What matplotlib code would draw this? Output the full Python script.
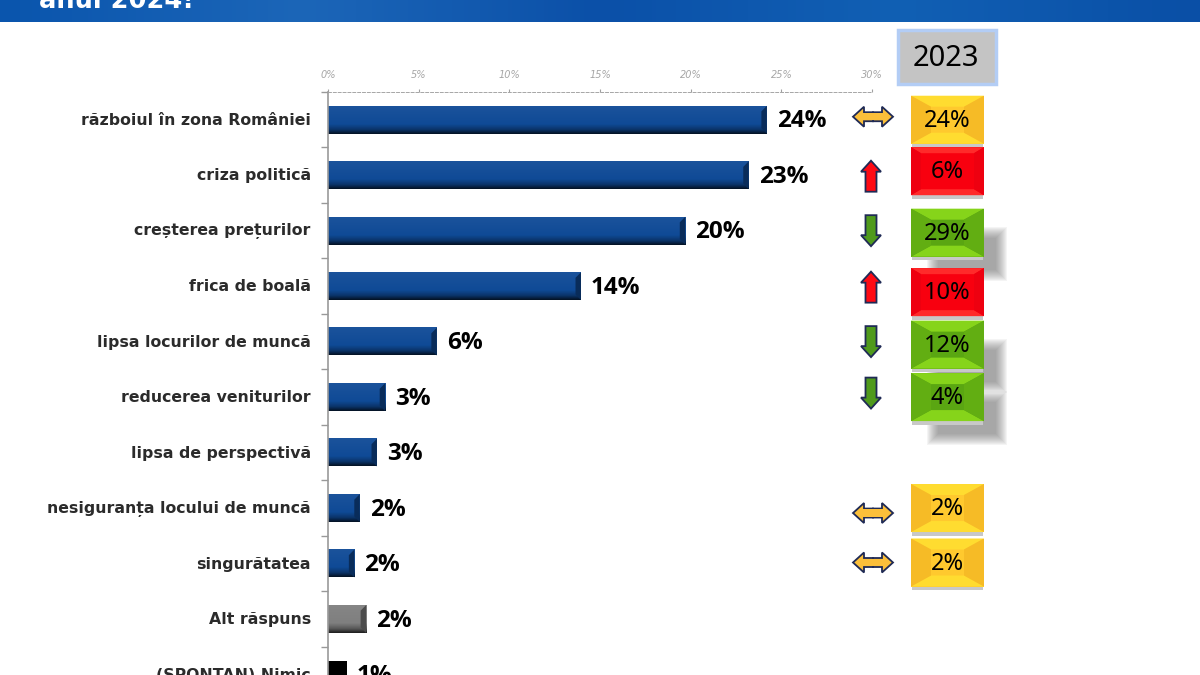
import matplotlib
matplotlib.use("Agg")
import matplotlib.pyplot as plt
import numpy as np
from matplotlib.colors import LinearSegmentedColormap, to_rgb
from matplotlib.patches import Polygon, Rectangle, FancyArrow
from matplotlib.ticker import PercentFormatter

categories = ["războiul în zona României", "criza politică", "creșterea prețurilor",
              "frica de boală", "lipsa locurilor de muncă", "reducerea veniturilor",
              "lipsa de perspectivă", "nesiguranța locului de muncă", "singurătatea",
              "Alt răspuns", "(SPONTAN) Nimic"]
values = [24.2, 23.2, 19.7, 13.95, 6.0, 3.15, 2.7, 1.75, 1.45, 2.1, 1.05]
value_labels = ["24%", "23%", "20%", "14%", "6%", "3%", "3%", "2%", "2%", "2%", "1%"]
bar_colors = ["#0f4a96"] * 9 + ["#7f7f7f", "#000000"]

# 2023 comparison, by row
rows_2023 = [0, 1, 2, 3, 4, 5, 7, 8]
labels_2023 = ["24%", "6%", "29%", "10%", "12%", "4%", "2%", "2%"]
trend = ["same", "up", "down", "up", "down", "down", "same", "same"]
box_nudge = [0, -4, 2, 6, 3, 0, 0, -1]
arrow_nudge = [-3, 1, 0, 1, 0, -4, 5, -1]

W, H = 1200, 675
plt.rcParams["font.family"] = ["DejaVu Sans"]
fig = plt.figure(figsize=(12, 6.75), dpi=100)

# overlay in pixels for the slide decoration
bg = fig.add_axes([0, 0, 1, 1], zorder=0)
bg.axis("off")

grad = np.linspace(0, 1, 300).reshape(1, -1)
band = LinearSegmentedColormap.from_list("band", ["#0a55ad", "#1c66b8", "#0b50a8", "#1160b4", "#0a4fa6"])
bg.imshow(grad, extent=[0, W, 22, 0], cmap=band, aspect="auto")
bg.text(39, 8, "anul 2024!", color="white", fontsize=18.5, fontweight="bold", va="baseline", ha="left")

ax = fig.add_axes([328 / W, 0, 544 / W, (H - 92) / H], zorder=1)
ax.patch.set_alpha(0)
bars = ax.barh(range(len(values)), values, height=0.5, color=bar_colors, edgecolor="none")
ax.set_xlim(0, 30)
ax.set_ylim(10.01, -0.5)
ax.xaxis.set_ticks_position("top")
ax.xaxis.set_major_formatter(PercentFormatter(decimals=0))
ax.set_xticks(range(0, 31, 5))
ax.tick_params(axis="x", labelsize=7, labelcolor="#a6a6a6", length=2, color="#a0a0a0", pad=7)
for t in ax.get_xticklabels():
    t.set_fontstyle("italic")
ax.set_yticks(np.arange(-0.5, 10.5))
ax.set_yticklabels([])
ax.tick_params(axis="y", length=5, color="#999999", width=1)
for s in ["right", "bottom"]:
    ax.spines[s].set_visible(False)
ax.spines["left"].set_color("#999999")
ax.spines["left"].set_linewidth(1.2)
ax.spines["top"].set_color("#a6a6a6")
ax.spines["top"].set_linestyle((0, (3, 2)))
ax.spines["top"].set_linewidth(0.7)


def shade(c, f):
    c = np.array(to_rgb(c))
    return tuple(c * f) if f < 1 else tuple(c + (1 - c) * (f - 1))


for bar, c, lab, cat, i in zip(bars, bar_colors, value_labels, categories, range(len(values))):
    w = bar.get_width()
    y0 = bar.get_y()
    h = bar.get_height()
    if c != "#000000":
        # vertical shading, then a small bevel at the bar end
        cm = LinearSegmentedColormap.from_list("b", [(0, shade(c, 1.05)), (0.65, c), (0.85, shade(c, 0.7)), (1, shade(c, 0.25))])
        ax.imshow(np.linspace(0, 1, 40).reshape(-1, 1), extent=(0, w, y0 + h, y0), cmap=cm, aspect="auto", zorder=2)
        dx = 0.3
        dy = h * 0.2
        ax.add_patch(Polygon([(w, y0), (w, y0 + h), (w - dx, y0 + h - dy), (w - dx, y0 + dy)],
                             color=shade(c, 0.6), lw=0, zorder=3))
    ax.text(w + 0.55, i + 0.03, lab, fontsize=17.5, fontweight="bold", color="black", va="center", ha="left",
            clip_on=False, family="Open Sans")
    ax.text(-0.95, i + 0.01, cat, fontsize=11.35, fontweight="bold", color="#2b2b2b", va="center", ha="right",
            clip_on=False)
ax.set_xlim(0, 30)
ax.set_ylim(10.01, -0.5)

# 2023 header
bg.add_patch(Rectangle((898, 30), 98, 54, facecolor="#c4c4c4", edgecolor="#b3cdf5", lw=2.5))
bg.text(946, 59, "2023", fontsize=21, color="black", ha="center", va="center", family="Noto Sans")

box_colors = {"same": ("#ffc92e", "#ffdc30", "#f6bb26"), "up": ("#f8000f", "#ff2a2a", "#ee0010"),
              "down": ("#5aa612", "#86d41a", "#62ae12")}
arrow_colors = {"same": "#fbbf3a", "up": "#ff0a14", "down": "#4f9a1c"}


def row_px(r):
    # pixel centre of a row, read back from the chart axis
    return H - ax.transData.transform((0, r))[1]


for r, lab, tr, bn, an in zip(rows_2023, labels_2023, trend, box_nudge, arrow_nudge):
    yr = row_px(r)
    yc = yr + bn
    x0, x1 = 911, 984
    hh = 24
    y0, y1 = yc - hh, yc + hh
    base, light, dark = box_colors[tr]
    dxb, dyb = (10, 6) if tr == "up" else (20, 11)
    # soft shadow for the green boxes
    if tr == "down":
        for k in range(12):
            bg.add_patch(Rectangle((x0 + 16 + k, y0 + 18 + k), 80 - 2 * k, 54 - 2 * k,
                                   facecolor="#707070", alpha=0.07, lw=0, zorder=1))
    bg.add_patch(Rectangle((x0 + 1, y1), x1 - x0 - 2, 3.5, facecolor="#c8c8c8", lw=0, zorder=1.5))
    bg.add_patch(Rectangle((x0, y0), x1 - x0, y1 - y0, facecolor=base, lw=0, zorder=2))
    ix0, ix1 = x0 + dxb, x1 - dxb
    iy0, iy1 = y0 + dyb, y1 - dyb
    bg.add_patch(Polygon([(x0, y0), (x1, y0), (ix1, iy0), (ix0, iy0)], color=light, lw=0, zorder=2))
    bg.add_patch(Polygon([(x0, y1), (x1, y1), (ix1, iy1), (ix0, iy1)], color=light, lw=0, zorder=2))
    bg.add_patch(Polygon([(x0, y0), (ix0, iy0), (ix0, iy1), (x0, y1)], color=dark, lw=0, zorder=2))
    bg.add_patch(Polygon([(x1, y0), (ix1, iy0), (ix1, iy1), (x1, y1)], color=dark, lw=0, zorder=2))
    bg.text((x0 + x1) / 2, yc + 1, lab, fontsize=17, color="black", ha="center", va="center", zorder=3,
            family="Noto Sans")

    ac = arrow_colors[tr]
    ya = yr + an
    if tr == "same":
        cx = 873
        for sgn in [1, -1]:
            bg.add_patch(FancyArrow(cx, ya, sgn * 20, 0, width=9, head_width=20, head_length=11,
                                    length_includes_head=True, facecolor=ac, edgecolor="#1f2a55", lw=1.3, zorder=2))
        bg.add_patch(Rectangle((cx - 10, ya - 3.7), 20, 7.4, facecolor=ac, lw=0, zorder=3))
    else:
        sgn = -1 if tr == "up" else 1
        bg.add_patch(FancyArrow(871, ya - sgn * 15.5, 0, sgn * 31, width=11, head_width=20, head_length=11,
                                length_includes_head=True, facecolor=ac, edgecolor="#1f2a55", lw=1.3, zorder=2))

bg.set_xlim(0, W)
bg.set_ylim(H, 0)
fig.savefig("out.png", dpi=100)
